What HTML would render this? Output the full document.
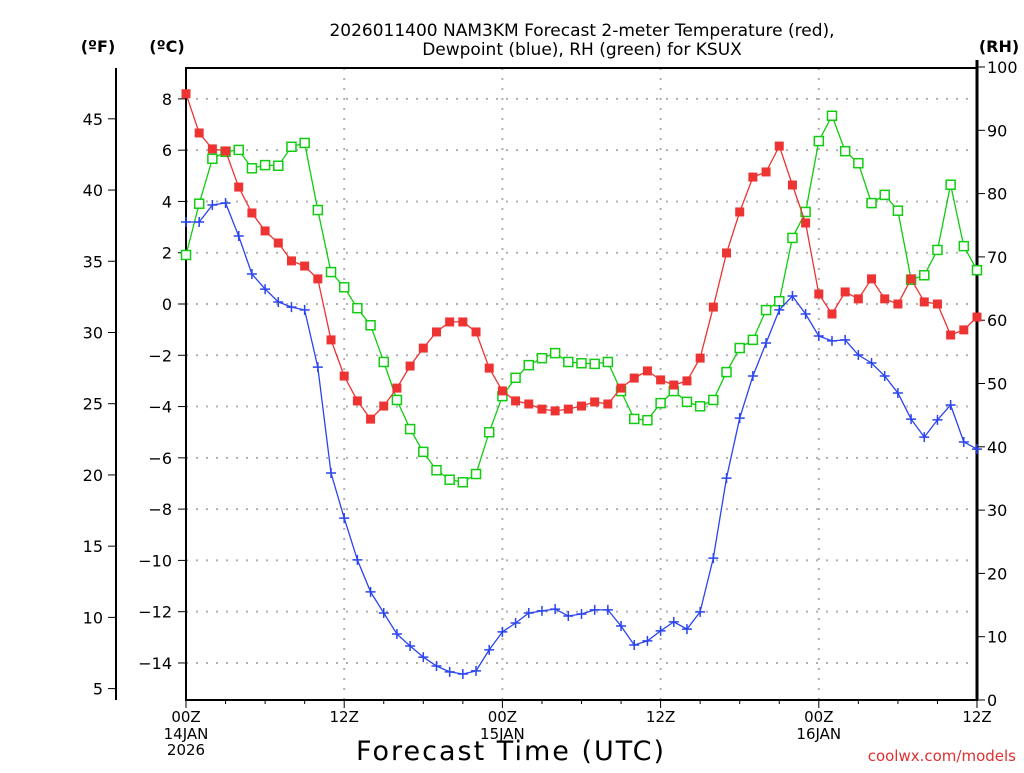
<!DOCTYPE html>
<html><head><meta charset="utf-8"><style>
body{margin:0;background:#fff;}
svg text{font-family:"DejaVu Sans","Liberation Sans",sans-serif;}
</style></head><body>
<svg id="chart" width="1024" height="768" viewBox="0 0 1024 768" xmlns="http://www.w3.org/2000/svg">
<rect width="1024" height="768" fill="#fff"/>
<text x="582" y="36" font-size="17" text-anchor="middle" fill="#000">2026011400 NAM3KM Forecast 2-meter Temperature (red),</text>
<text x="582" y="55" font-size="17" text-anchor="middle" fill="#000">Dewpoint (blue), RH (green) for KSUX</text>
<text x="98" y="52" font-size="16" font-weight="bold" text-anchor="middle">(ºF)</text>
<text x="167" y="52" font-size="16" font-weight="bold" text-anchor="middle">(ºC)</text>
<text x="999" y="52" font-size="16" font-weight="bold" text-anchor="middle">(RH)</text>
<text x="511" y="760" font-size="27" letter-spacing="2" text-anchor="middle">Forecast Time (UTC)</text>
<text x="1016" y="761" font-size="15" text-anchor="end" fill="#e03030">coolwx.com/models</text>
<g id="grid"></g><g id="axes"></g><g id="series"></g>
</svg>
<script>
const hours = [];
for (let h = 0; h <= 60; h++) hours.push(h);
const tempC = [8.2,6.67,6.05,5.97,4.56,3.55,2.85,2.38,1.68,1.48,0.98,-1.40,-2.81,-3.78,-4.49,-3.98,-3.28,-2.42,-1.72,-1.09,-0.70,-0.70,-1.09,-2.50,-3.39,-3.78,-3.90,-4.10,-4.17,-4.10,-3.98,-3.82,-3.90,-3.28,-2.89,-2.61,-2.96,-3.16,-3.00,-2.11,-0.12,1.99,3.59,4.95,5.15,6.16,4.64,3.16,0.39,-0.39,0.47,0.20,0.98,0.20,0,0.98,0.08,0,-1.21,-1.01,-0.51];
const dewC = [3.2,3.2,3.86,3.94,2.65,1.17,0.58,0.08,-0.12,-0.23,-2.46,-6.59,-8.35,-9.98,-11.23,-12.05,-12.87,-13.34,-13.77,-14.12,-14.35,-14.43,-14.31,-13.49,-12.79,-12.44,-12.05,-11.97,-11.90,-12.17,-12.09,-11.93,-11.93,-12.56,-13.30,-13.14,-12.75,-12.40,-12.68,-12.01,-9.91,-6.79,-4.45,-2.81,-1.52,-0.23,0.31,-0.39,-1.25,-1.44,-1.40,-1.99,-2.30,-2.81,-3.47,-4.49,-5.19,-4.52,-3.94,-5.38,-5.66];
const rh = [70.3,78.4,85.5,86.6,86.9,84.0,84.5,84.4,87.4,88.0,77.4,67.6,65.2,61.9,59.2,53.4,47.4,42.8,39.2,36.3,34.8,34.4,35.7,42.3,48.0,50.9,52.9,54.0,54.8,53.4,53.2,53.1,53.4,48.8,44.4,44.2,46.9,48.8,47.1,46.4,47.4,51.8,55.6,56.9,61.6,63.0,73.0,77.1,88.3,92.3,86.7,84.8,78.5,79.8,77.3,66.4,67.1,71.1,81.4,71.7,67.9];
const cTicks = [-14,-12,-10,-8,-6,-4,-2,0,2,4,6,8];
const fTicks = [5,10,15,20,25,30,35,40,45];
const rhTicks = [0,10,20,30,40,50,60,70,80,90,100];
const xTickHours = [0,12,24,36,48,60];
const xTickLabels = ["00Z","12Z","00Z","12Z","00Z","12Z"];
const xDateLabels = ["14JAN\n2026","","15JAN","","16JAN",""];

const NS="http://www.w3.org/2000/svg";
const L=186,R=977,T=68,B=700;
const x=h=>L+(R-L)*h/60;
const yC=c=>304-c*25.64;
const yF=f=>yC((f-32)*5/9);
const yR=v=>B-(B-67)*v/100;
function mk(tag,attrs,parent){const e=document.createElementNS(NS,tag);for(const k in attrs)e.setAttribute(k,attrs[k]);parent.appendChild(e);return e;}
const grid=document.getElementById('grid'),axes=document.getElementById('axes'),ser=document.getElementById('series');

cTicks.forEach(c=>{
  const g=mk('line',{x1:L,x2:R,y1:yC(c),y2:yC(c),stroke:'#b0b0b0','stroke-width':2,'stroke-dasharray':'2,8'},grid);
  
  
  const t=mk('line',{x1:L-8,x2:L,y1:yC(c),y2:yC(c),stroke:'#000','stroke-width':1},axes);
  
  
  const tx=mk('text',{x:172,y:yC(c)+6,'font-size':16,'text-anchor':'end'},axes);
  tx.textContent=(c<0?'\u2212'+(-c):String(c));
  
  
});
xTickHours.forEach((h,i)=>{
  if(h>0&&h<60){const g=mk('line',{x1:x(h),x2:x(h),y1:T,y2:B,stroke:'#b0b0b0','stroke-width':2,'stroke-dasharray':'2,8'},grid);
  
  }
  const tk=mk('line',{x1:x(h),x2:x(h),y1:B,y2:B+8,stroke:'#000'},axes);
  
  
  const t=mk('text',{x:x(h),y:722,'font-size':15,'text-anchor':'middle'},axes);
  t.textContent=xTickLabels[i];
  
  
  xDateLabels[i].split('\n').forEach((s,j)=>{if(!s)return;
    const d=mk('text',{x:x(h),y:739+j*16,'font-size':15,'text-anchor':'middle'},axes);
    d.textContent=s;
    
    });
});
for(let h=0;h<=60;h+=3){if(h%12===0)continue;
  const tk=mk('line',{x1:x(h),x2:x(h),y1:B,y2:B+4,stroke:'#000'},axes);
  
  }
const frame=mk('rect',{x:L,y:T,width:R-L,height:B-T,fill:'none',stroke:'#000','stroke-width':2},axes);


const rAx=mk('line',{x1:R,x2:R,y1:60,y2:B,stroke:'#000','stroke-width':3},axes);


const fAx=mk('line',{x1:116,x2:116,y1:68,y2:700,stroke:'#000','stroke-width':2},axes);


fTicks.forEach(f=>{
  const t=mk('line',{x1:108,x2:116,y1:yF(f),y2:yF(f),stroke:'#000'},axes);
  
  
  const tx=mk('text',{x:103,y:yF(f)+6,'font-size':16,'text-anchor':'end'},axes);
  tx.textContent=String(f);
  
  
});
rhTicks.forEach(v=>{
  const t=mk('line',{x1:R,x2:R+8,y1:yR(v),y2:yR(v),stroke:'#000'},axes);
  
  
  const tx=mk('text',{x:987,y:yR(v)+6,'font-size':16,'text-anchor':'start'},axes);
  tx.textContent=String(v);
  
  
});

function series(vals,yf,color,kind,name){
  const pts=vals.map((v,i)=>x(hours[i]).toFixed(1)+','+yf(v).toFixed(1)).join(' ');
  const pl=mk('polyline',{points:pts,fill:'none',stroke:color,'stroke-width':1.3},ser);
  
  
  vals.forEach((v,i)=>{
    const cx=x(hours[i]),cy=yf(v);let m;
    if(kind==='filled'){m=mk('rect',{x:cx-4.5,y:cy-4.5,width:9,height:9,fill:color},ser);}
    else if(kind==='open'){m=mk('rect',{x:cx-4.5,y:cy-4.5,width:9,height:9,fill:'#fff',stroke:color,'stroke-width':1.5},ser);}
    else{m=mk('path',{d:`M${cx-5},${cy}H${cx+5}M${cx},${cy-5}V${cy+5}`,stroke:color,'stroke-width':1.5},ser);}
    
    
  });
}
series(rh,yR,'#11cc11','open','rh');
series(dewC,yC,'#2a44ee','plus','dewpoint');
series(tempC,yC,'#ee3333','filled','temperature');
</script>
</body></html>
